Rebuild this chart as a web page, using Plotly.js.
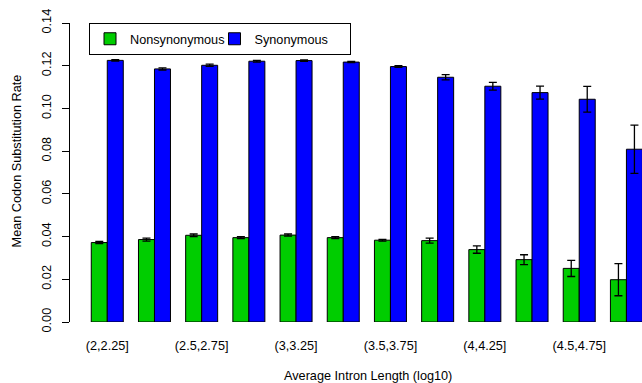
<!DOCTYPE html>
<html>
<head>
<meta charset="utf-8">
<script src="https://cdn.plot.ly/plotly-3.0.1.min.js"></script>
<style>html,body{margin:0;padding:0;background:#fff;}#chart{width:642px;height:383px;}</style>
</head>
<body>
<div id="chart"></div>
<script>
var categories = ["(2,2.25]","(2.25,2.5]","(2.5,2.75]","(2.75,3]","(3,3.25]","(3.25,3.5]","(3.5,3.75]","(3.75,4]","(4,4.25]","(4.25,4.5]","(4.5,4.75]","(4.75,5]"];
var tickLabels = ["(2,2.25]","(2.5,2.75]","(3,3.25]","(3.5,3.75]","(4,4.25]","(4.5,4.75]"];
var yTicks = [0,0.02,0.04,0.06,0.08,0.10,0.12,0.14];
var yTickLabels = ["0.00","0.02","0.04","0.06","0.08","0.10","0.12","0.14"];
var nonsynonymous = [0.0372,0.0386,0.0406,0.0395,0.0407,0.0395,0.0383,0.0381,0.0339,0.0292,0.0251,0.0198];
var nonsynonymousErr = [0.0005,0.0007,0.0006,0.0005,0.0005,0.0005,0.0004,0.0012,0.0017,0.0023,0.0038,0.0075];
var synonymous = [0.1225,0.1185,0.1202,0.1221,0.1224,0.1217,0.1196,0.1146,0.1104,0.1074,0.1043,0.0809];
var synonymousErr = [0.0003,0.0005,0.0005,0.0004,0.0003,0.0003,0.0004,0.0012,0.0018,0.0030,0.0060,0.0113];

var font = {family: "'Liberation Sans', Arial, Helvetica, sans-serif", size: 12.7, color: "#000"};

var traces = [
  {type: "bar", name: "Nonsynonymous", x: categories, y: nonsynonymous, legendwidth: 79.5,
   marker: {color: "#00CD00", line: {color: "#000", width: 1}},
   error_y: {type: "data", array: nonsynonymousErr, visible: true, color: "#000", thickness: 1.3, width: 4}},
  {type: "bar", name: "Synonymous", x: categories, y: synonymous, legendwidth: 90,
   marker: {color: "#0000FF", line: {color: "#000", width: 1}},
   error_y: {type: "data", array: synonymousErr, visible: true, color: "#000", thickness: 1.3, width: 4}}
];

var layout = {
  width: 642, height: 383,
  margin: {l: 70, r: 0, t: 23, b: 61},
  paper_bgcolor: "#fff", plot_bgcolor: "#fff",
  font: font,
  barmode: "group", bargap: 0.322, bargroupgap: 0,
  showlegend: true,
  legend: {orientation: "h", x: (89 - 70) / 572, y: 1, xanchor: "left", yanchor: "top",
           bordercolor: "#000", borderwidth: 1, bgcolor: "#fff", font: font},
  xaxis: {type: "category", range: [-0.79, 11.33], showline: false, showgrid: false, zeroline: false,
          tickmode: "array", tickvals: tickLabels, ticktext: tickLabels,
          ticks: "outside", ticklen: 0, ticklabelstandoff: 12, tickfont: font},
  yaxis: {range: [0, 0.14], showline: true, linecolor: "#000", linewidth: 1, showgrid: false, zeroline: false,
          tickmode: "array", tickvals: yTicks, ticktext: yTickLabels,
          ticks: "outside", ticklen: 7, tickcolor: "#000", tickwidth: 1, tickangle: -90,
          ticklabelstandoff: 6, tickfont: font},
  annotations: [
    {text: "Average Intron Length (log10)", xref: "paper", yref: "paper", x: 0.521, y: -0.1816,
     xanchor: "center", yanchor: "middle", showarrow: false, font: font},
    {text: "Mean Codon Substitution Rate", xref: "paper", yref: "paper", x: (17 - 70) / 572, y: 0.537,
     xanchor: "center", yanchor: "middle", textangle: -90, showarrow: false, font: font}
  ]
};

Plotly.newPlot("chart", traces, layout, {displayModeBar: false, staticPlot: true});
</script>
</body>
</html>
